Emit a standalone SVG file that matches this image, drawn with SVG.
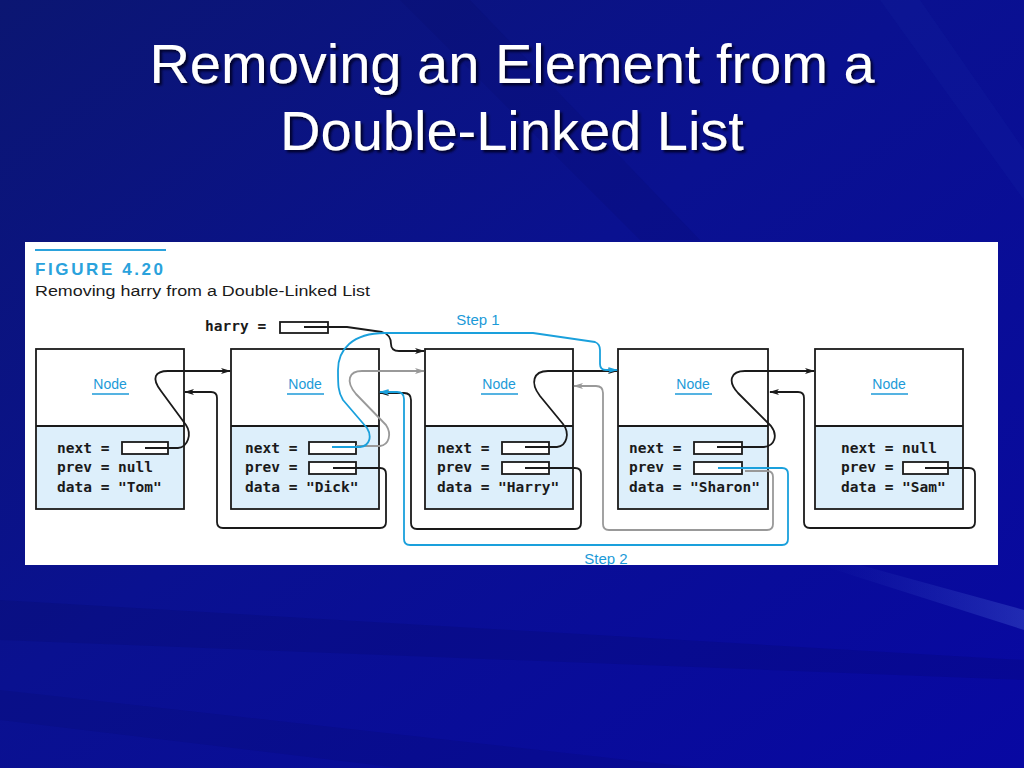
<svg xmlns="http://www.w3.org/2000/svg" width="1024" height="768" viewBox="0 0 1024 768">
<defs>
<linearGradient id="bg" x1="0" y1="0" x2="1" y2="1">
<stop offset="0" stop-color="#0b1672"/>
<stop offset="0.45" stop-color="#0a1190"/>
<stop offset="1" stop-color="#0808a2"/>
</linearGradient>
<linearGradient id="streak" x1="0" y1="0" x2="1" y2="0">
<stop offset="0" stop-color="#3a5ad0" stop-opacity="0"/>
<stop offset="1" stop-color="#5a78e0" stop-opacity="0.3"/>
</linearGradient>
<filter id="shadow" x="-5%" y="-20%" width="110%" height="140%">
<feDropShadow dx="2.5" dy="2.5" stdDeviation="0.8" flood-color="#000020" flood-opacity="0.9"/>
</filter>
<clipPath id="panelClip"><rect x="25" y="242" width="973" height="323"/></clipPath>
<marker id="ab" viewBox="0 0 10 6" refX="9" refY="3" markerWidth="10" markerHeight="6" markerUnits="userSpaceOnUse" orient="auto"><path d="M0,0 L10,3 L0,6 L2.5,3 z" fill="#1a1a1a"/></marker>
<marker id="ag" viewBox="0 0 10 6" refX="9" refY="3" markerWidth="10" markerHeight="6" markerUnits="userSpaceOnUse" orient="auto"><path d="M0,0 L10,3 L0,6 L2.5,3 z" fill="#999999"/></marker>
<marker id="au" viewBox="0 0 10 6" refX="9" refY="3" markerWidth="10" markerHeight="6" markerUnits="userSpaceOnUse" orient="auto"><path d="M0,0 L10,3 L0,6 L2.5,3 z" fill="#1aa0dc"/></marker>
</defs>
<style>
.title{font-family:"Liberation Sans",Arial,sans-serif;font-size:56px;fill:#ffffff;text-anchor:middle}
.frame{fill:#ffffff;stroke:#1a1a1a;stroke-width:1.8}
.lower{fill:#ddeffb;stroke:none}
.div{stroke:#1a1a1a;stroke-width:1.8}
.lbl{font-family:"Liberation Sans",Arial,sans-serif;font-size:14px;fill:#1c9ad8;text-anchor:middle}
.ul{stroke:#1c9ad8;stroke-width:1.6}
.mono{font-family:"DejaVu Sans Mono","Liberation Mono",monospace;font-size:14.5px;fill:#1a1a1a;font-weight:bold}
.box{fill:#ffffff;stroke:#1a1a1a;stroke-width:1.8}
.cb{fill:none;stroke:#1a1a1a;stroke-width:1.8;stroke-linejoin:round}
.cg{fill:none;stroke:#999999;stroke-width:1.8;stroke-linejoin:round}
.cu{fill:none;stroke:#1aa0dc;stroke-width:1.8;stroke-linejoin:round}
.step{font-family:"Liberation Sans",Arial,sans-serif;font-size:15px;fill:#1c9ad8;text-anchor:middle}
</style>
<rect x="0" y="0" width="1024" height="768" fill="url(#bg)"/>
<polygon points="0,600 1024,660 1024,680 0,640" fill="#050a50" opacity="0.15"/>
<polygon points="0,690 700,768 400,768 0,720" fill="#050a50" opacity="0.12"/>
<polygon points="820,565 860,565 1024,610 1024,630" fill="url(#streak)"/>
<polygon points="400,0 470,0 700,240 640,240" fill="#0a0a60" opacity="0.15"/>
<polygon points="880,0 920,0 1024,150 1024,200" fill="#3050c0" opacity="0.07"/>
<g id="title" filter="url(#shadow)">
<text class="title" x="512" y="83">Removing an Element from a</text>
<text class="title" x="512" y="150">Double-Linked List</text>
</g>
<g id="figure" clip-path="url(#panelClip)">
<rect x="25" y="242" width="973" height="323" fill="#ffffff"/>
<line x1="35" y1="250" x2="166" y2="250" stroke="#2aa2dc" stroke-width="2"/>
<text x="35" y="275" font-family="'Liberation Sans',Arial,sans-serif" font-size="17px" font-weight="bold" fill="#2aa2dc" letter-spacing="2.6">FIGURE 4.20</text>
<text x="35" y="296" font-family="'Liberation Sans',Arial,sans-serif" font-size="15.5px" fill="#1a1a1a" textLength="335" lengthAdjust="spacingAndGlyphs">Removing harry from a Double-Linked List</text>
<g id="harry-var">
<text class="mono" x="205" y="331">harry =</text>
<rect class="box" x="280" y="322" width="48" height="11"/>
</g>
<g id="node-tom">
<rect class="frame" x="36" y="349" width="148" height="160"/>
<rect class="lower" x="37" y="426" width="146" height="82"/>
<line class="div" x1="36" y1="426" x2="184" y2="426"/>
<text class="lbl" x="110" y="389">Node</text>
<line class="ul" x1="92" y1="394" x2="129" y2="394"/>
<text class="mono" x="57" y="453">next =</text>
<rect class="box" x="122" y="442" width="46" height="12"/>
<text class="mono" x="57" y="472">prev = null</text>
<text class="mono" x="57" y="492">data = "Tom"</text>
</g>
<g id="node-dick">
<rect class="frame" x="231" y="349" width="148" height="160"/>
<rect class="lower" x="232" y="426" width="146" height="82"/>
<line class="div" x1="231" y1="426" x2="379" y2="426"/>
<text class="lbl" x="305" y="389">Node</text>
<line class="ul" x1="287" y1="394" x2="324" y2="394"/>
<text class="mono" x="245" y="453">next =</text>
<rect class="box" x="309" y="442" width="47" height="12"/>
<text class="mono" x="245" y="472">prev =</text>
<rect class="box" x="309" y="462" width="47" height="12"/>
<text class="mono" x="245" y="492">data = "Dick"</text>
</g>
<g id="node-harry">
<rect class="frame" x="425" y="349" width="148" height="160"/>
<rect class="lower" x="426" y="426" width="146" height="82"/>
<line class="div" x1="425" y1="426" x2="573" y2="426"/>
<text class="lbl" x="499" y="389">Node</text>
<line class="ul" x1="481" y1="394" x2="518" y2="394"/>
<text class="mono" x="437" y="453">next =</text>
<rect class="box" x="502" y="442" width="47" height="12"/>
<text class="mono" x="437" y="472">prev =</text>
<rect class="box" x="502" y="462" width="47" height="12"/>
<text class="mono" x="437" y="492">data = "Harry"</text>
</g>
<g id="node-sharon">
<rect class="frame" x="618" y="349" width="150" height="160"/>
<rect class="lower" x="619" y="426" width="148" height="82"/>
<line class="div" x1="618" y1="426" x2="768" y2="426"/>
<text class="lbl" x="693" y="389">Node</text>
<line class="ul" x1="675" y1="394" x2="712" y2="394"/>
<text class="mono" x="629" y="453">next =</text>
<rect class="box" x="694" y="442" width="48" height="12"/>
<text class="mono" x="629" y="472">prev =</text>
<rect class="box" x="694" y="462" width="48" height="12"/>
<text class="mono" x="629" y="492">data = "Sharon"</text>
</g>
<g id="node-sam">
<rect class="frame" x="815" y="349" width="148" height="160"/>
<rect class="lower" x="816" y="426" width="146" height="82"/>
<line class="div" x1="815" y1="426" x2="963" y2="426"/>
<text class="lbl" x="889" y="389">Node</text>
<line class="ul" x1="871" y1="394" x2="908" y2="394"/>
<text class="mono" x="841" y="453">next = null</text>
<text class="mono" x="841" y="472">prev =</text>
<rect class="box" x="903" y="462" width="45" height="12"/>
<text class="mono" x="841" y="492">data = "Sam"</text>
</g>
<g id="connectors">
<path class="cg" d="M356,446 H380 C389,445 392,434 386,425 L356,394 C345,381 349,371 362,371 H424" marker-end="url(#ag)"/>
<path class="cg" d="M745,471 H767 Q773,471 773,477 V524 Q773,530 767,530 H609 Q603,530 603,524 V393 Q603,386 596,386 H574" marker-end="url(#ag)"/>
<path class="cb" d="M145,448 H178 C188,447 192,434 186,425 L161,391 C151,378 155,371 168,371 H230" marker-end="url(#ab)"/>
<path class="cb" d="M333,468 H380 Q386,468 386,474 V522 Q386,528 380,528 H223 Q217,528 217,522 V398 Q217,392 211,392 H185" marker-end="url(#ab)"/>
<path class="cb" d="M304,327 H347 L382,332 C389,334 391,339 391,344 Q391,351 399,351 H424" marker-end="url(#ab)"/>
<path class="cb" d="M525,447 H557 C567,446 570,433 563,424 L540,396 C530,383 533,371 548,371 H617" marker-end="url(#ab)"/>
<path class="cb" d="M525,468 H575 Q581,468 581,474 V523 Q581,529 575,529 H417 Q411,529 411,523 V400 Q411,393 404,393 H380" marker-end="url(#ab)"/>
<path class="cb" d="M717,447 H764 C775,446 778,435 771,426 L738,393 C727,381 731,371 745,371 H814" marker-end="url(#ab)"/>
<path class="cb" d="M925,468 H969 Q975,468 975,474 V522 Q975,528 969,528 H810 Q804,528 804,522 V398 Q804,392 798,392 H770" marker-end="url(#ab)"/>
<path class="cu" d="M332,447 H360 C370,446 372,436 367,428 L343,400 C338,392 338,385 338,370 C338,350 352,333 385,333 H533 L595,342 Q600,344 600,350 V364 Q600,370 606,370 H617" marker-end="url(#au)"/>
<path class="cu" d="M718,468 H782 Q788,468 788,474 V539 Q788,545 782,545 H410 Q404,545 404,539 V399 Q404,392 397,392 H380" marker-end="url(#au)"/>
</g>
<text class="step" x="478" y="325">Step 1</text>
<text class="step" x="606" y="564">Step 2</text>
</g>
</svg>
